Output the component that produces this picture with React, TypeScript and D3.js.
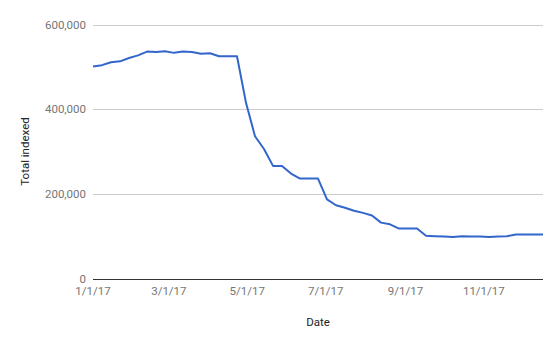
import React, { useEffect, useRef } from "react";
import * as d3 from "d3";

const startDate = "2017-01-01";
const weekCount = 51;
const totalIndexed = [
  501000, 504000, 511000, 513000, 521000, 527000, 536000, 535000, 537000, 533000,
  536000, 535000, 531000, 532000, 525000, 525000, 525000, 415000, 336000, 306000,
  266000, 266000, 248000, 236000, 236000, 236000, 187000, 173000, 167000, 160000,
  155000, 149000, 132000, 128000, 118000, 118000, 118000, 101000, 100000, 99000,
  98000, 100000, 99000, 99000, 98000, 99000, 100000, 104000, 104000, 104000, 104000,
];
const yTicks = [0, 200000, 400000, 600000];
const xTickDates = ["2017-01-01", "2017-03-01", "2017-05-01", "2017-07-01", "2017-09-01", "2017-11-01"];
const xTitle = "Date";
const yTitle = "Total indexed";

export default function App() {
  const ref = useRef<SVGSVGElement | null>(null);
  useEffect(() => {
    const svg = d3.select(ref.current);
    svg.selectAll("*").remove();
    const W = 560, H = 346;
    const m = { left: 93, right: 17, top: 24.5, bottom: 67.5 };
    const parse = d3.utcParse("%Y-%m-%d");
    const start = parse(startDate) as Date;
    const data = totalIndexed.slice(0, weekCount).map((v, i) => ({ d: d3.utcDay.offset(start, i * 7), v }));
    const x = d3.scaleUtc().domain([data[0].d, data[data.length - 1].d]).range([m.left, W - m.right]);
    const y = d3.scaleLinear().domain([0, 600000]).range([H - m.bottom, m.top]);
    const font = "Roboto, Arial, sans-serif";

    const g = svg.append("g");
    // gridlines
    g.selectAll("line.grid").data(yTicks.filter(t => t !== 0)).join("line")
      .attr("x1", m.left).attr("x2", W - m.right)
      .attr("y1", d => Math.round(y(d)) + 0.5).attr("y2", d => Math.round(y(d)) + 0.5)
      .attr("stroke", "#cccccc").attr("stroke-width", 1);
    // y tick labels
    const fmt = d3.format(",");
    g.selectAll("text.yt").data(yTicks).join("text")
      .attr("x", m.left - 7).attr("y", d => y(d))
      .attr("dy", "0.35em").attr("text-anchor", "end")
      .attr("font-family", font).attr("font-size", 11.5).attr("fill", "#757575")
      .text(d => fmt(d));
    // x tick labels
    const ft = d3.utcFormat("%-m/%-d/%y");
    g.selectAll("text.xt").data(xTickDates.map(s => parse(s) as Date)).join("text")
      .attr("x", d => x(d)).attr("y", H - m.bottom + 16)
      .attr("text-anchor", "middle")
      .attr("font-family", font).attr("font-size", 11.5).attr("fill", "#757575")
      .text(d => ft(d));
    // line
    const line = d3.line<{ d: Date; v: number }>().x(p => x(p.d)).y(p => y(p.v));
    g.append("path").datum(data).attr("d", line)
      .attr("fill", "none").attr("stroke", "#3366cc").attr("stroke-width", 2)
      .attr("stroke-linejoin", "round");
    // baseline
    g.append("line").attr("x1", m.left).attr("x2", W - m.right)
      .attr("y1", Math.round(y(0)) + 0.5).attr("y2", Math.round(y(0)) + 0.5)
      .attr("stroke", "#333333").attr("stroke-width", 1);
    // titles
    g.append("text").attr("x", (m.left + W - m.right) / 2).attr("y", 326)
      .attr("text-anchor", "middle").attr("font-family", font).attr("font-size", 11.5).attr("fill", "#222")
      .text(xTitle);
    g.append("text").attr("transform", `translate(29,${(m.top + H - m.bottom) / 2}) rotate(-90)`)
      .attr("text-anchor", "middle").attr("font-family", font).attr("font-size", 11.5).attr("fill", "#222")
      .text(yTitle);
  }, []);
  return (
    <svg ref={ref} width={560} height={346} style={{ position: "absolute", left: 0, top: 0, background: "#fff" }} />
  );
}
